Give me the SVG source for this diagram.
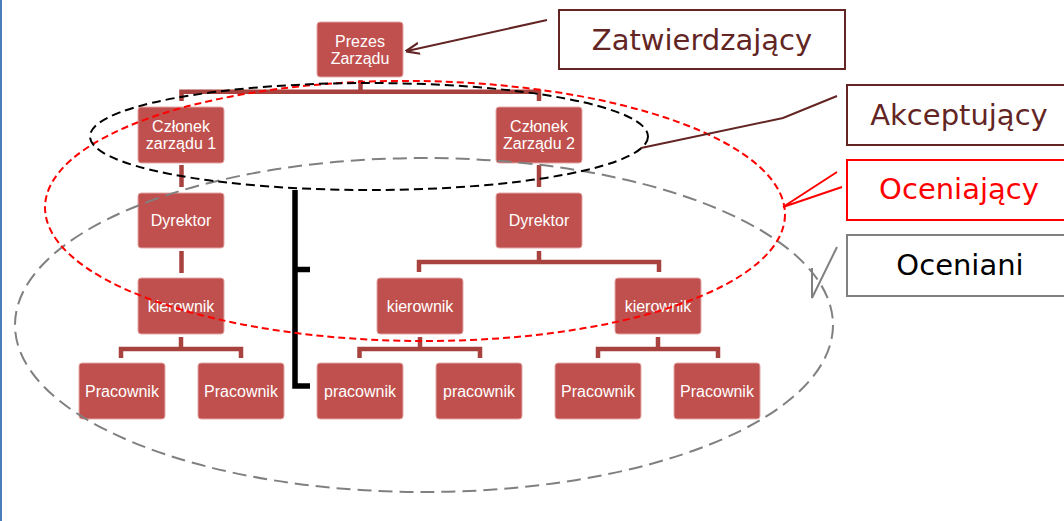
<svg xmlns="http://www.w3.org/2000/svg" width="1064" height="521" viewBox="0 0 1064 521">
  <defs>
    <style>
      .box { fill: #c0504d; stroke: #e2a8a6; stroke-width: 1; }
      .bt { font-family: "Liberation Sans", Arial, sans-serif; font-size: 16px; fill: #ffffff; text-anchor: middle; }
      .conn { fill: none; stroke: #a8423f; stroke-width: 4.5; stroke-linejoin: miter; }
      .lbl { font-family: "DejaVu Sans", Verdana, sans-serif; font-size: 29px; text-anchor: middle; }
      .lblbox { fill: #ffffff; stroke-width: 2; }
      .maroon { stroke: #632523; }
      .call { fill: none; stroke-width: 2; }
    </style>
    <marker id="arrow" viewBox="0 0 10 10" refX="9" refY="5" markerWidth="7" markerHeight="7" orient="auto">
      <path d="M0,1 L10,5 L0,9" fill="none" stroke="#632523" stroke-width="1.6"/>
    </marker>
  </defs>

  <rect x="0" y="0" width="1064" height="521" fill="#ffffff"/>
  <rect x="0" y="0" width="2" height="521" fill="#4a7ebb"/>

  <!-- org chart connectors -->
  <g id="connectors">
    <path class="conn" d="M360.5,80 V91.8 M181.5,101 V91.8 H539 V101"/>
    <path class="conn" d="M181.5,165 V187"/>
    <path class="conn" d="M539,165 V187"/>
    <path class="conn" d="M181.5,251 V273"/>
    <path class="conn" d="M539,251 V262 M419,272 V262 H659 V272"/>
    <path class="conn" d="M181,337 V349 M121,358 V349 H241 V358"/>
    <path class="conn" d="M420,337 V349 M359.5,358 V349 H480 V358"/>
    <path class="conn" d="M658,337 V349 M598,358 V349 H718 V358"/>
  </g>

  <!-- org chart nodes -->
  <g id="prezes">
    <rect class="box" x="317" y="22" width="86" height="55" rx="3"/>
    <text class="bt" x="360" y="47">Prezes</text>
    <text class="bt" x="360" y="64">Zarządu</text>
  </g>
  <g id="czlonek1">
    <rect class="box" x="138" y="107" width="86" height="56" rx="3"/>
    <text class="bt" x="181" y="132">Członek</text>
    <text class="bt" x="181" y="149">zarządu 1</text>
  </g>
  <g id="czlonek2">
    <rect class="box" x="496" y="107" width="86" height="56" rx="3"/>
    <text class="bt" x="539" y="132">Członek</text>
    <text class="bt" x="539" y="149">Zarządu 2</text>
  </g>
  <g id="dyrektor1">
    <rect class="box" x="138" y="193" width="86" height="55" rx="3"/>
    <text class="bt" x="181" y="226">Dyrektor</text>
  </g>
  <g id="dyrektor2">
    <rect class="box" x="496" y="193" width="86" height="55" rx="3"/>
    <text class="bt" x="539" y="226">Dyrektor</text>
  </g>
  <g id="kierownik1">
    <rect class="box" x="138" y="278" width="86" height="56" rx="3"/>
    <text class="bt" x="181" y="312">kierownik</text>
  </g>
  <g id="kierownik2">
    <rect class="box" x="377" y="278" width="86" height="56" rx="3"/>
    <text class="bt" x="420" y="312">kierownik</text>
  </g>
  <g id="kierownik3">
    <rect class="box" x="615" y="278" width="86" height="56" rx="3"/>
    <text class="bt" x="658" y="312">kierownik</text>
  </g>
  <g id="pracownik1">
    <rect class="box" x="79" y="363" width="86" height="56" rx="3"/>
    <text class="bt" x="122" y="397">Pracownik</text>
  </g>
  <g id="pracownik2">
    <rect class="box" x="198" y="363" width="86" height="56" rx="3"/>
    <text class="bt" x="241" y="397">Pracownik</text>
  </g>
  <g id="pracownik3">
    <rect class="box" x="317" y="363" width="86" height="56" rx="3"/>
    <text class="bt" x="360" y="397">pracownik</text>
  </g>
  <g id="pracownik4">
    <rect class="box" x="436" y="363" width="86" height="56" rx="3"/>
    <text class="bt" x="479" y="397">pracownik</text>
  </g>
  <g id="pracownik5">
    <rect class="box" x="555" y="363" width="86" height="56" rx="3"/>
    <text class="bt" x="598" y="397">Pracownik</text>
  </g>
  <g id="pracownik6">
    <rect class="box" x="674" y="363" width="86" height="56" rx="3"/>
    <text class="bt" x="717" y="397">Pracownik</text>
  </g>

  <!-- bracket -->
  <path id="bracket" d="M295,190 V386 H310 M295,269.5 H310" fill="none" stroke="#000000" stroke-width="5.5"/>

  <!-- group outlines -->
  <g id="groups" fill="none" stroke-width="2">
    <ellipse id="oceniani-area" cx="424" cy="325" rx="409" ry="167" stroke="#808080" stroke-dasharray="14 7"/>
    <ellipse id="oceniajacy-area" cx="415" cy="211" rx="370" ry="130" stroke="#ff0000" stroke-dasharray="7 4" transform="rotate(0.6 415 211)"/>
    <ellipse id="akceptujacy-area" cx="369" cy="136.5" rx="279" ry="53.5" stroke="#000000" stroke-dasharray="9 5"/>
  </g>

  <!-- role labels -->
  <g id="zatwierdzajacy">
    <rect class="lblbox maroon" x="559" y="10" width="286" height="59"/>
    <text class="lbl" x="702" y="50" fill="#632523">Zatwierdzający</text>
  </g>
  <g id="akceptujacy">
    <rect class="lblbox maroon" x="847" y="85" width="230" height="60"/>
    <text class="lbl" x="959" y="125" fill="#632523">Akceptujący</text>
  </g>
  <g id="oceniajacy">
    <rect class="lblbox" x="847" y="160" width="230" height="60" stroke="#ff0000"/>
    <text class="lbl" x="959" y="199" fill="#ff0000">Oceniający</text>
  </g>
  <g id="oceniani">
    <rect class="lblbox" x="847" y="235" width="230" height="61" stroke="#808080"/>
    <text class="lbl" x="960" y="275" fill="#000000">Oceniani</text>
  </g>

  <!-- callouts -->
  <g id="callouts">
    <line x1="547" y1="20" x2="407" y2="51" stroke="#632523" stroke-width="2" marker-end="url(#arrow)"/>
    <polyline class="call" points="837,96 783,118 641,148" stroke="#632523"/>
    <polyline class="call" points="837,172 783,207 842,187" stroke="#ff0000"/>
    <polyline class="call" points="837,247 812,298 812,268" stroke="#808080"/>
  </g>
</svg>
